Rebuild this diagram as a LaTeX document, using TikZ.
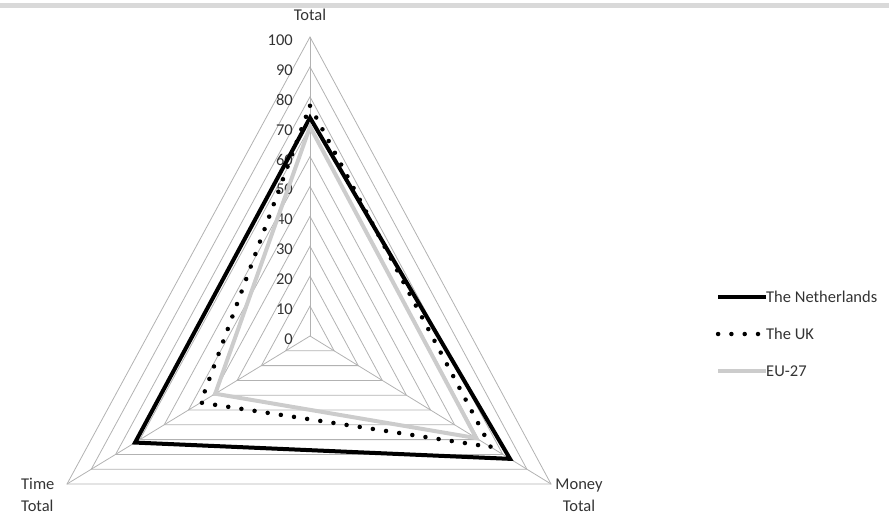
\documentclass[tikz,border=0pt]{standalone}
\usepackage{fontspec}
\setmainfont{Carlito}
\usetikzlibrary{calc}

\begin{document}
\begin{tikzpicture}[x=1pt, y=-1pt,
        grid/.style={draw=gray!60, line width=0.8pt},
        lbl/.style={font=\fontsize{16.5}{22}\selectfont, text=black!80, inner sep=0pt},
        nlline/.style={line width=4pt, black, line join=miter},
        ukline/.style={line width=4.5pt, black, line cap=round, dash pattern=on 0pt off 13.3pt},
        euline/.style={line width=4pt, gray!40, line join=miter}
    ]
    \useasboundingbox (0,0) rectangle (894,515);
    \fill[gray!30] (0,3) rectangle (889,8);

    % axes
    \coordinate (c) at (310,336);
    \coordinate (total) at (310,37);
    \coordinate (time) at (67,484);
    \coordinate (money) at (551,484);

    \foreach \k in {1,...,10}
        \draw[grid] ($(c)!\k/10!(total)$) -- ($(c)!\k/10!(money)$) -- ($(c)!\k/10!(time)$) -- cycle;
    \foreach \a in {total,time,money}
        \draw[grid] (c) -- (\a);

    \foreach \k in {0,...,10} {
        \pgfmathtruncatemacro{\v}{10*\k}
        \node[lbl, anchor=east] (tick\k) at ($(c)!\k/10!(total)+(-17,3)$) {\v};
    }

    \node[lbl] (totallbl) at (310,15) {Total};
    \node[lbl, align=left, anchor=west] (timelbl) at (21,495) {Time\\Total};
    \node[lbl, align=center] (moneylbl) at (579,495) {Money\\Total};

    % series
    \draw[nlline] ($(c)!0.73!(total)$) -- ($(c)!0.83!(money)$) -- ($(c)!0.72!(time)$) -- cycle;
    \draw[ukline] ($(c)!0.77!(total)$) -- ($(c)!0.75!(money)$) -- ($(c)!0.45!(time)$) -- cycle;
    \draw[euline] ($(c)!0.70!(total)$) -- ($(c)!0.69!(money)$) -- ($(c)!0.39!(time)$) -- cycle;

    % legend
    \node[lbl, anchor=west] (nllbl) at (766,297) {The Netherlands};
    \node[lbl, anchor=west] (uklbl) at (766,334) {The UK};
    \node[lbl, anchor=west] (eulbl) at (766,371) {EU-27};
    \draw[nlline] (nllbl.west) -- ++(-48,0);
    \draw[ukline] ([xshift=-8pt]uklbl.west) -- ++(-41,0);
    \draw[euline] (eulbl.west) -- ++(-48,0);
\end{tikzpicture}
\end{document}
